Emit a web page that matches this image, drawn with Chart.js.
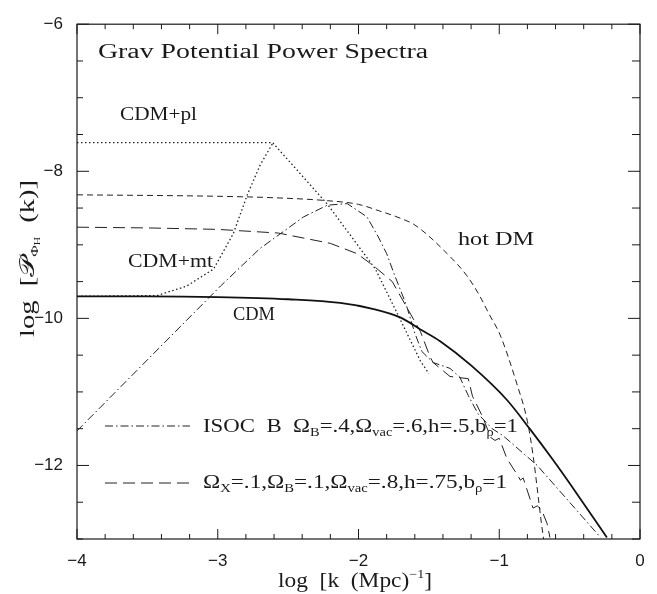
<!DOCTYPE html>
<html>
<head>
<meta charset="utf-8">
<script src="https://cdn.jsdelivr.net/npm/chart.js@4.4.1/dist/chart.umd.min.js"></script>
<style>
  html, body { margin: 0; padding: 0; background: #fff; }
  #wrap { width: 657px; height: 594px; }
</style>
</head>
<body>
<div id="wrap"><canvas id="spectra-chart" width="657" height="594"></canvas></div>
<script>
// values: log k (x) and log P (y) for each model
const cdmK = [-4, -3.5, -3, -2.5, -2.13, -1.9, -1.7, -1.56, -1.42, -1.2, -0.945, -0.78, -0.62, -0.45, -0.235];
const cdmP = [-9.70, -9.70, -9.71, -9.74, -9.79, -9.87, -9.99, -10.15, -10.31, -10.64, -11.11, -11.51, -11.92, -12.38, -12.98];

const plK = [-4, -2.61, -2.22, -1.88, -1.72, -1.56, -1.5];
const plP = [-7.61, -7.61, -8.45, -9.33, -9.95, -10.58, -10.75];

const mtK = [-4, -3.43, -3.22, -3.03, -2.89, -2.79, -2.70, -2.61];
const mtP = [-9.70, -9.69, -9.56, -9.33, -8.85, -8.32, -7.92, -7.62];

const hotK = [-4, -3, -2.6, -2.22, -2.0, -1.85, -1.7, -1.6, -1.37, -1.23, -1.14, -1.07, -0.995, -0.875, -0.8, -0.76, -0.70, -0.685];
const hotP = [-8.32, -8.34, -8.36, -8.40, -8.45, -8.54, -8.64, -8.73, -9.12, -9.42, -9.69, -9.95, -10.22, -10.89, -11.4, -11.86, -12.79, -13.0];

const isoK = [-4, -2.98, -2.70, -2.39, -2.22, -2.08, -1.94, -1.86, -1.80, -1.75, -1.66, -1.60, -1.55, -1.47, -1.35, -1.28, -1.22, -1.15, -1.05, -0.97, -0.73, -0.5, -0.28];
const isoP = [-11.53, -9.56, -9.05, -8.62, -8.46, -8.44, -8.62, -8.89, -9.12, -9.38, -9.82, -10.2, -10.45, -10.6, -10.68, -10.8, -11.05, -11.3, -11.5, -11.6, -12.0, -12.5, -12.98];

const omxK = [-4, -3.5, -3, -2.57, -2.2, -2.01, -1.89, -1.76, -1.56, -1.49, -1.47, -1.35, -1.22, -1.19, -1.12, -1.06, -1.03, -1.0, -0.945, -0.87, -0.85, -0.83, -0.76, -0.73, -0.70, -0.66, -0.64];
const omxP = [-8.76, -8.77, -8.79, -8.84, -8.98, -9.12, -9.29, -9.5, -10.18, -10.53, -10.6, -10.79, -10.82, -11.06, -11.33, -11.62, -11.66, -11.63, -11.91, -12.13, -12.2, -12.17, -12.58, -12.55, -12.6, -12.79, -12.98];

const xTicks = [-4, -3, -2, -1, 0];
const yTicks = [-12, -10, -8, -6];

const toPoints = (xs, ys) => xs.map((x, i) => ({ x: x, y: ys[i] }));
const minus = (v) => (v < 0 ? "\u2212" : "") + Math.abs(v);

const SERIF = '"Liberation Serif", "DejaVu Serif", serif';
const INK = "#1a1a1a";

// draws text made of pieces [text, sizeFactor, dyFactor], stretched to a given width
const drawRich = (ctx, parts, x, y, width, size, angle) => {
  ctx.save();
  let natural = 0;
  parts.forEach(([t, f]) => {
    ctx.font = `${Math.round(size * f)}px ${SERIF}`;
    natural += ctx.measureText(t).width;
  });
  ctx.translate(x, y);
  if (angle) ctx.rotate(angle);
  ctx.scale(width ? width / natural : 1, 1);
  ctx.fillStyle = INK;
  ctx.textBaseline = "alphabetic";
  ctx.textAlign = "left";
  let cx = 0;
  parts.forEach(([t, f, dy]) => {
    ctx.font = `${Math.round(size * f)}px ${SERIF}`;
    ctx.fillText(t, cx, dy * size);
    cx += ctx.measureText(t).width;
  });
  ctx.restore();
};

const framePlugin = {
  id: "frame",
  afterDraw(chart) {
    const { ctx, chartArea: a, scales } = chart;
    const xs = scales.x;
    const ys = scales.y;
    ctx.save();
    ctx.strokeStyle = INK;
    ctx.lineWidth = 1.2;
    ctx.strokeRect(a.left, a.top, a.right - a.left, a.bottom - a.top);

    ctx.lineWidth = 1;
    ctx.beginPath();
    for (let i = 0; i <= 20; i++) {
      const v = -4 + i * 0.2;
      const px = xs.getPixelForValue(v);
      const len = i % 5 === 0 ? 10 : 5;
      ctx.moveTo(px, a.bottom);
      ctx.lineTo(px, a.bottom - len);
      ctx.moveTo(px, a.top);
      ctx.lineTo(px, a.top + len);
    }
    for (let i = 0; i <= 14; i++) {
      const v = -13 + i * 0.5;
      const py = ys.getPixelForValue(v);
      const major = yTicks.includes(v);
      ctx.moveTo(a.left, py);
      ctx.lineTo(a.left + (major ? 12 : 6), py);
      ctx.moveTo(a.right, py);
      ctx.lineTo(a.right - (major ? 12 : 8), py);
    }
    ctx.stroke();

    // legend samples
    const samples = [
      { ds: chart.data.datasets[4], y: 426 },
      { ds: chart.data.datasets[5], y: 483 },
    ];
    samples.forEach(({ ds, y }) => {
      ctx.beginPath();
      ctx.setLineDash(ds.borderDash);
      ctx.strokeStyle = ds.borderColor;
      ctx.lineWidth = ds.borderWidth;
      ctx.moveTo(105, y);
      ctx.lineTo(190, y);
      ctx.stroke();
    });
    ctx.setLineDash([]);
    ctx.restore();

    // labels
    drawRich(ctx, [["Grav Potential Power Spectra", 1, 0]], 98, 58, 330, 20);
    drawRich(ctx, [["CDM+pl", 1, 0]], 120, 120, 77, 19);
    drawRich(ctx, [["CDM+mt", 1, 0]], 128, 267, 85, 19);
    drawRich(ctx, [["CDM", 1, 0]], 233, 320, 42, 19);
    drawRich(ctx, [["hot DM", 1, 0]], 458, 245, 76, 19);
    drawRich(ctx, [
      ["ISOC  B  \u03A9", 1, 0], ["B", 0.62, 0.22],
      ["=.4,\u03A9", 1, 0], ["vac", 0.62, 0.22],
      ["=.6,h=.5,b", 1, 0], ["\u03C1", 0.62, 0.22], ["=1", 1, 0],
    ], 203, 432, 315, 19);
    drawRich(ctx, [
      ["\u03A9", 1, 0], ["X", 0.62, 0.22],
      ["=.1,\u03A9", 1, 0], ["B", 0.62, 0.22],
      ["=.1,\u03A9", 1, 0], ["vac", 0.62, 0.22],
      ["=.8,h=.75,b", 1, 0], ["\u03C1", 0.62, 0.22], ["=1", 1, 0],
    ], 203, 488, 304, 19);

    // axis titles
    drawRich(ctx, [["log  [k  (Mpc)", 1, 0], ["\u22121", 0.6, -0.45], ["]", 1, 0]], 278, 587, 154, 20);
    drawRich(ctx, [
      ["log  [", 1, 0], ["\uD835\uDCAB", 1, 0], ["\u03A6", 0.55, 0.2], ["H", 0.38, 0.3], ["  (k)]", 1, 0],
    ], 34, 337, 157, 20, -Math.PI / 2);
  },
};

const line = (label, xs, ys, extra) =>
  Object.assign(
    {
      label: label,
      data: toPoints(xs, ys),
      showLine: true,
      pointRadius: 0,
      borderColor: "#222",
      borderWidth: 1,
      fill: false,
    },
    extra
  );

const spectraChart = new Chart(document.getElementById("spectra-chart"), {
  type: "scatter",
  data: {
    datasets: [
      line("CDM", cdmK, cdmP, { borderColor: "#111", borderWidth: 1.8, cubicInterpolationMode: "monotone" }),
      line("CDM+pl", plK, plP, { borderDash: [1.5, 2.5], borderWidth: 1.3 }),
      line("CDM+mt", mtK, mtP, { borderDash: [1.5, 2.5], borderWidth: 1.3 }),
      line("hot DM", hotK, hotP, { borderDash: [6, 4], cubicInterpolationMode: "monotone" }),
      line("ISOC B", isoK, isoP, { borderDash: [8, 3, 1.5, 3] }),
      line("Omega X", omxK, omxP, { borderDash: [12, 6] }),
    ],
  },
  options: {
    responsive: false,
    animation: false,
    devicePixelRatio: 1,
    layout: { padding: { top: 13, right: 17, left: 0, bottom: 0 } },
    plugins: {
      legend: { display: false },
      tooltip: { enabled: false },
    },
    scales: {
      x: {
        type: "linear",
        min: -4,
        max: 0,
        afterFit: (s) => { s.height = 55; },
        grid: { display: false, drawTicks: false },
        border: { display: false },
        ticks: {
          stepSize: 0.2,
          autoSkip: false,
          maxRotation: 0,
          padding: 12,
          color: INK,
          font: { family: '"Liberation Sans", sans-serif', size: 17 },
          callback: (v) => {
            const r = Math.round(v);
            return Math.abs(v - r) < 1e-6 && xTicks.includes(r) ? minus(r) : "";
          },
        },
      },
      y: {
        type: "linear",
        min: -13,
        max: -6,
        afterFit: (s) => { s.width = 77; },
        grid: { display: false, drawTicks: false },
        border: { display: false },
        ticks: {
          stepSize: 0.5,
          autoSkip: false,
          padding: 14,
          color: INK,
          font: { family: '"Liberation Sans", sans-serif', size: 17 },
          callback: (v) => {
            const r = Math.round(v);
            return Math.abs(v - r) < 1e-6 && yTicks.includes(r) ? minus(r) : "";
          },
        },
      },
    },
  },
  plugins: [framePlugin],
});
</script>
</body>
</html>
